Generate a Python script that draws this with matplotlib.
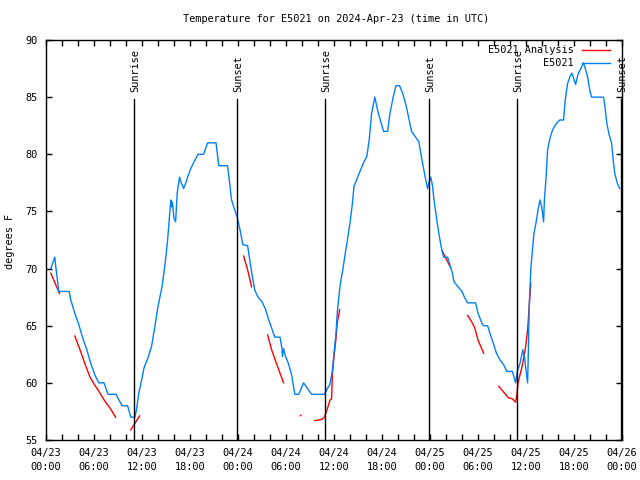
import numpy as np
import matplotlib
matplotlib.use("Agg")
import matplotlib.pyplot as plt
from matplotlib.ticker import MultipleLocator, FixedLocator
import matplotlib.transforms as mtransforms

nan = np.nan

# hours since 2024-04-23 00:00 UTC
obs_hours = [0.6, 1.1, 1.2, 1.6, 2.9, 3.1, 3.6, 4.1, 4.6, 5.1, 5.6, 6.1, 6.6, 7.25, 7.75, 8.75,
             9.5, 10.2, 10.6, 11.1, 11.3, 11.6, 12.0, 12.25, 12.8, 13.2, 13.6, 14.0, 14.5, 14.9,
             15.2, 15.4, 15.6, 15.7, 15.8, 16.0, 16.2, 16.4, 16.7, 16.8, 17.2, 17.6, 18.0, 18.4,
             19.0, 19.7, 20.2, 21.25, 21.6, 22.7, 23.0, 23.2, 23.6, 23.9, 24.25, 24.6, 25.2, 25.5,
             25.8, 26.1, 26.5, 27.0, 27.4, 27.8, 28.2, 28.6, 29.25, 29.5, 29.55, 29.7, 29.9, 30.3,
             30.7, 31.1, 31.6, 32.2, 32.8, 33.2, 34.8, 35.1, 35.5, 35.8, 36.0, 36.25, 36.4, 36.6,
             36.8, 37.1, 37.4, 37.7, 38.0, 38.3, 38.5, 38.9, 39.3, 39.75, 40.1, 40.4, 40.7, 41.1,
             41.5, 42.2, 42.7, 43.0, 43.4, 43.75, 44.2, 44.6, 45.0, 45.4, 45.7, 46.1, 46.6, 47.0,
             47.4, 47.7, 47.9, 48.1, 48.3, 48.5, 48.8, 49.1, 49.4, 49.7, 50.2, 50.5, 50.8, 51.0,
             51.5, 52.0, 52.3, 52.7, 53.7, 54.0, 54.5, 54.7, 55.2, 55.5, 55.9, 56.3, 56.75, 57.2,
             57.6, 58.3, 58.7, 58.9, 59.25, 59.6, 59.8, 60.0, 60.2, 60.3, 60.4, 60.6, 60.8, 61.0,
             61.25, 61.5, 61.75, 61.96, 62.2, 62.3, 62.5, 62.7, 63.0, 63.3, 63.7, 64.2, 64.7, 64.9,
             65.2, 65.5, 65.75, 66.2, 66.5, 67.0, 67.2, 67.7, 68.0, 68.2, 69.7, 69.9, 70.1, 70.4,
             70.7, 70.9, 71.1, 71.4, 71.7]
obs_temp = [70.0, 71.0, 70.3, 68.0, 68.0, 67.25, 66.1, 65.1, 63.9, 62.9, 61.7, 60.7, 60.0, 60.0, 59.0, 59.0,
            58.0, 58.0, 57.0, 57.0, 57.6, 59.1, 60.4, 61.3, 62.3, 63.2, 64.9, 66.7, 68.4, 70.5,
            72.5, 74.25, 76.0, 75.4, 75.8, 74.4, 74.1, 76.6, 78.0, 77.7, 77.0, 77.75, 78.6, 79.2,
            80.0, 80.0, 81.0, 81.0, 79.0, 79.0, 77.2, 76.0, 75.1, 74.5, 73.4, 72.1, 72.0, 70.6,
            69.3, 68.1, 67.5, 67.1, 66.5, 65.6, 64.8, 64.0, 64.0, 63.0, 62.3, 63.0, 62.4, 61.7,
            60.7, 59.0, 59.0, 60.0, 59.4, 59.0, 59.0, 59.4, 59.9, 61.1, 62.6, 64.3, 66.1, 67.5,
            68.7, 69.9, 71.3, 72.6, 74.0, 75.7, 77.2, 77.9, 78.6, 79.35, 79.8, 81.25, 83.6, 85.0,
            83.7, 82.0, 82.0, 83.6, 85.0, 86.0, 86.0, 85.3, 84.3, 83.0, 82.0, 81.6, 81.1, 79.5,
            78.0, 77.0, 77.6, 78.0, 77.3, 76.0, 74.5, 73.1, 71.9, 71.0, 71.0, 70.3, 69.6, 68.85,
            68.4, 68.0, 67.5, 67.0, 67.0, 66.1, 65.2, 65.0, 65.0, 64.3, 63.5, 62.6, 62.0, 61.6,
            61.0, 61.0, 60.0, 61.0, 61.7, 62.9, 62.3, 61.1, 60.0, 62.9, 66.7, 69.9, 71.6, 73.1,
            74.0, 75.1, 76.0, 75.4, 74.1, 76.0, 77.9, 80.4, 81.4, 82.1, 82.6, 83.0, 83.0, 84.75,
            86.2, 86.8, 87.1, 86.1, 87.0, 87.7, 88.0, 86.8, 85.5, 85.0, 85.0, 84.0, 82.7, 81.7,
            81.0, 79.5, 78.3, 77.5, 77.0]

# analysis segments (nan separates segments)
ana_hours = [0.6, 1.7, nan,
             3.6, 4.25, 4.9, 5.5, 6.1, 6.75, 7.4, 8.0, 8.7, nan,
             10.6, 11.7, nan,
             24.7, 25.2, 25.7, nan,
             27.7, 28.2, 28.8, 29.7, nan,
             31.7, nan,
             33.6, 34.5, 34.8, 35.2, 35.5, 35.7, 35.8, 36.0, 36.25, 36.4, 36.7, nan,
             49.5, 49.9, 50.5, nan,
             52.7, 53.2, 53.6, 54.0, 54.7, nan,
             56.6, 57.2, 57.8, 58.3, 58.7, 58.85, 59.0, 59.5, 59.9, 60.2, 60.4, 60.6]
ana_temp = [69.6, 67.8, nan,
            64.1, 62.9, 61.6, 60.5, 59.8, 59.1, 58.35, 57.8, 57.0, nan,
            55.9, 57.1, nan,
            71.1, 69.9, 68.4, nan,
            64.2, 62.9, 61.7, 60.0, nan,
            57.2, nan,
            56.7, 56.8, 57.0, 57.8, 58.5, 58.6, 60.8, 62.3, 63.9, 65.2, 66.4, nan,
            71.6, 71.0, 70.2, nan,
            65.9, 65.35, 64.8, 63.75, 62.6, nan,
            59.7, 59.2, 58.7, 58.6, 58.3, 58.9, 60.0, 61.4, 62.9, 64.6, 66.7, 68.7]

sun_hours = [11.0, 23.9, 34.9, 47.9, 58.9, 71.9]
sun_labels = ["Sunrise", "Sunset", "Sunrise", "Sunset", "Sunrise", "Sunset"]

xtick_hours = list(range(0, 73, 6))
xtick_labels = ["04/23\n00:00", "04/23\n06:00", "04/23\n12:00", "04/23\n18:00",
                "04/24\n00:00", "04/24\n06:00", "04/24\n12:00", "04/24\n18:00",
                "04/25\n00:00", "04/25\n06:00", "04/25\n12:00", "04/25\n18:00",
                "04/26\n00:00"]
ytick_vals = [55, 60, 65, 70, 75, 80, 85, 90]

FS = 7.35
plt.rcParams['font.family'] = ['DejaVu Sans Mono']
plt.rcParams['font.size'] = FS

fig = plt.figure(figsize=(6.4, 4.8), dpi=100)
ax = fig.add_axes([46/640, 40/480, 576/640, 400/480])

BLUE = '#0080ff'
RED = '#ff0000'

ax.plot(ana_hours, ana_temp, color=RED, lw=1.0)
# isolated analysis points
ah = np.array(ana_hours); at = np.array(ana_temp)
for i in range(len(ah)):
    if np.isnan(ah[i]):
        continue
    prev_nan = i == 0 or np.isnan(ah[i-1])
    next_nan = i == len(ah)-1 or np.isnan(ah[i+1])
    if prev_nan and next_nan:
        ax.plot([ah[i]], [at[i]], marker='s', ms=1.2, color=RED, mew=0)
ax.plot(obs_hours, obs_temp, color=BLUE, lw=1.0)

trans = mtransforms.blended_transform_factory(ax.transData, ax.transAxes)
for h, lab in zip(sun_hours, sun_labels):
    ax.axvline(h, ymin=0, ymax=(440-99)/400, color='black', lw=1.0)
    ax.text(h + 0.15, (440-92)/400, lab, rotation=90, ha='center', va='bottom',
            transform=trans, fontsize=FS)

ax.set_xlim(0, 72)
ax.set_ylim(55, 90)
ax.xaxis.set_major_locator(FixedLocator(xtick_hours))
ax.set_xticklabels(xtick_labels, linespacing=1.55)
ax.xaxis.set_minor_locator(MultipleLocator(2))
ax.set_yticks(ytick_vals)
ax.set_yticklabels([str(v) for v in ytick_vals])
ax.tick_params(which='both', direction='in', top=True, right=True, length=4, width=1,
               labelsize=FS)
ax.tick_params(axis='x', which='major', pad=5.5)
ax.tick_params(axis='y', which='major', pad=6)
for s in ax.spines.values():
    s.set_linewidth(1.0)

# legend (gnuplot style)
ax.text((574-46)/576, (440-50)/400, "E5021 Analysis", ha='right', va='center',
        transform=ax.transAxes, fontsize=FS)
ax.plot([(582-46)/576, (610-46)/576], [(440-50)/400]*2, color=RED, lw=1.0,
        transform=ax.transAxes)
ax.text((574-46)/576, (440-63)/400, "E5021", ha='right', va='center',
        transform=ax.transAxes, fontsize=FS)
ax.plot([(582-46)/576, (610-46)/576], [(440-63)/400]*2, color=BLUE, lw=1.0,
        transform=ax.transAxes)

fig.text(336/640, 1-19/480, "Temperature for E5021 on 2024-Apr-23 (time in UTC)",
         ha='center', va='center', fontsize=FS)
fig.text(10/640, 1-241/480, "degrees F", rotation=90, ha='center', va='center', fontsize=FS)

fig.savefig("out.png", dpi=100)
